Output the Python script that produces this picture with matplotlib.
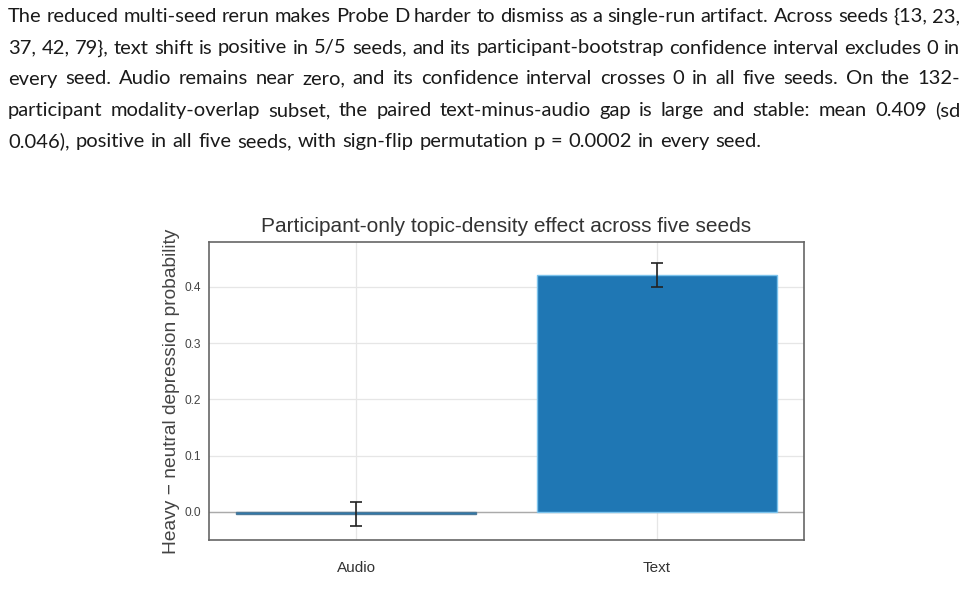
import matplotlib
matplotlib.use("Agg")
import matplotlib.pyplot as plt

# paragraph shown above the chart (already broken into the lines of the reference)
para_lines = [
    "The reduced multi-seed rerun makes Probe D harder to dismiss as a single-run artifact. Across seeds {13, 23,",
    "37, 42, 79}, text shift is positive in 5/5 seeds, and its participant-bootstrap confidence interval excludes 0 in",
    "every seed. Audio remains near zero, and its confidence interval crosses 0 in all five seeds. On the 132-",
    "participant modality-overlap subset, the paired text-minus-audio gap is large and stable: mean 0.409 (sd",
    "0.046), positive in all five seeds, with sign-flip permutation p = 0.0002 in every seed.",
]

# chart data
modalities = ["Audio", "Text"]
shift = [-0.003, 0.421]
ci_low = [-0.025, 0.400]
ci_high = [0.018, 0.443]

title = "Participant-only topic-density effect across five seeds"
ylabel = "Heavy \u2212 neutral depression probability"

W, H = 966, 605
fig = plt.figure(figsize=(W / 100, H / 100), dpi=100)
fig.patch.set_facecolor("white")

# --- justified paragraph ---
renderer = fig.canvas.get_renderer()
x0, x1 = 8, 960
baselines = [22, 53.5, 84.5, 116, 147]
para_font = dict(family="Lato", size=14.5, color="#1a1a1a")
for i, (line, yb) in enumerate(zip(para_lines, baselines)):
    words = line.split(" ")
    texts = [fig.text(0, 1 - yb / H, w, va="baseline", ha="left", **para_font) for w in words]
    widths = [t.get_window_extent(renderer).width for t in texts]
    last = i == len(para_lines) - 1
    sp = fig.text(0, 0, "a b", **para_font)
    sp2 = fig.text(0, 0, "ab", **para_font)
    space = sp.get_window_extent(renderer).width - sp2.get_window_extent(renderer).width
    sp.remove()
    sp2.remove()
    if last:
        gap = space * 1.15
    else:
        gap = (x1 - x0 - sum(widths)) / (len(words) - 1)
    x = x0
    for t, w in zip(texts, widths):
        t.set_x(x / W)
        x += w + gap

# --- chart ---
ax = fig.add_axes([209 / W, 1 - 540 / H, (804 - 209) / W, (540 - 242) / H])
ax.set_facecolor("white")
pos = list(range(len(modalities)))
yerr = [[s - lo for s, lo in zip(shift, ci_low)], [hi - s for s, hi in zip(shift, ci_high)]]
ax.bar(pos, shift, width=0.8, color="#1f77b4", edgecolor=["#4d7a99", "#7cc3ec"],
       linewidth=1.0, zorder=3)
ax.errorbar(pos, shift, yerr=yerr, fmt="none", ecolor="#222222", elinewidth=1.2,
            capsize=4, capthick=1.2, zorder=4)
ax.axhline(0, color="#aaaaaa", linewidth=1.0, zorder=2)

ax.set_xlim(-0.49, 1.49)
ax.set_ylim(-0.05, 0.48)
ax.set_xticks(pos)
ax.set_xticklabels(modalities)
ax.set_yticks([0.0, 0.1, 0.2, 0.3, 0.4])
ax.set_yticklabels(["0.0", "0.1", "0.2", "0.3", "0.4"])
ax.grid(True, color="#e6e6e6", linewidth=0.9, zorder=0)
ax.set_axisbelow(True)
for s in ax.spines.values():
    s.set_color("#666666")
    s.set_linewidth(1.2)
ax.tick_params(axis="both", length=0)
ax.tick_params(axis="x", pad=15, labelsize=11, labelcolor="#333333")
ax.tick_params(axis="y", pad=6, labelsize=8.6, labelcolor="#444444")
for lab in ax.get_xticklabels() + ax.get_yticklabels():
    lab.set_family("Liberation Sans")
ax.set_title(title, family="Liberation Sans", fontsize=15, color="#333333", pad=7)
ax.set_ylabel(ylabel, family="Liberation Sans", fontsize=13.8, color="#444444", labelpad=3)

fig.savefig("out.png", dpi=100, facecolor="white")
